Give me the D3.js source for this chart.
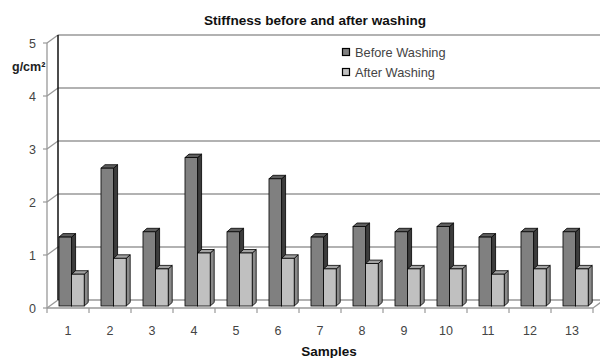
<!DOCTYPE html>
<html>
<head>
<meta charset="utf-8">
<script src="https://cdn.jsdelivr.net/npm/d3@7"></script>
<style>
  html, body { margin: 0; padding: 0; background: #fff; }
  svg { display: block; font-family: "Liberation Sans", Arial, sans-serif; }
</style>
</head>
<body>
<svg id="chart" width="600" height="358"></svg>
<script>
// Stiffness of samples before and after washing (g/cm²)
const samples = ["1","2","3","4","5","6","7","8","9","10","11","12","13"];
const beforeWashing = [1.3, 2.6, 1.4, 2.8, 1.4, 2.4, 1.3, 1.5, 1.4, 1.5, 1.3, 1.4, 1.4];
const afterWashing  = [0.6, 0.9, 0.7, 1.0, 1.0, 0.9, 0.7, 0.8, 0.7, 0.7, 0.6, 0.7, 0.7];
const yTicks = [0, 1, 2, 3, 4, 5];
const seriesNames = ["Before Washing", "After Washing"];

const svg = d3.select("#chart");

// Oblique projection: full depth of the floor/walls and the depth of each bar
const depth = { dx: 11, dy: -8 };
const barDepth = { dx: 4, dy: -3.5 };
const barPlane = 0.25;               // bars stand a quarter of the way into the floor

const x = d3.scaleBand().domain(samples).range([47, 593]).paddingInner(0).paddingOuter(0);
const y = d3.scaleLinear().domain([0, 5]).range([308, 43]);

const palette = {
  before: { front: "#808080", top: "#5e5e5e", side: "#3c3c3c" },
  after:  { front: "#c0c0c0", top: "#a2a2a2", side: "#8a8a8a" }
};
const gridColor = "#999999";

// Back wall gridlines and left wall diagonals
const gWalls = svg.append("g");
const x0 = x.range()[0], x1 = x.range()[1];
yTicks.forEach(t => {
  const yf = y(t);
  // left side wall: front edge to back edge
  gWalls.append("line")
    .attr("x1", x0).attr("y1", yf)
    .attr("x2", x0 + depth.dx).attr("y2", yf + depth.dy)
    .attr("stroke", gridColor).attr("stroke-width", 1.3);
  // back wall gridline (the floor's back edge for 0)
  gWalls.append("line")
    .attr("x1", x0 + depth.dx).attr("y1", yf + depth.dy)
    .attr("x2", x1 + depth.dx).attr("y2", yf + depth.dy)
    .attr("stroke", gridColor).attr("stroke-width", 1.3);
  // tick on the front value axis
  gWalls.append("line")
    .attr("x1", x0 - 4).attr("y1", yf)
    .attr("x2", x0).attr("y2", yf)
    .attr("stroke", gridColor).attr("stroke-width", 1.2);
});

// floor: front edge and right diagonal
gWalls.append("line")
  .attr("x1", x0).attr("y1", y(0)).attr("x2", x1).attr("y2", y(0))
  .attr("stroke", gridColor).attr("stroke-width", 1.3);
gWalls.append("line")
  .attr("x1", x1).attr("y1", y(0)).attr("x2", x1 + depth.dx).attr("y2", y(0) + depth.dy)
  .attr("stroke", gridColor).attr("stroke-width", 1.3);

// front value axis line
gWalls.append("line")
  .attr("x1", x0).attr("y1", y(0)).attr("x2", x0).attr("y2", y(5))
  .attr("stroke", gridColor).attr("stroke-width", 1.3);
// back-left corner edge
gWalls.append("line")
  .attr("x1", x0 + depth.dx).attr("y1", y(0) + depth.dy)
  .attr("x2", x0 + depth.dx).attr("y2", y(5) + depth.dy)
  .attr("stroke", "#111").attr("stroke-width", 1.5);

// category ticks on the front floor edge
const tickPos = samples.map(s => x(s)).concat([x1]);
gWalls.selectAll(".xtick").data(tickPos).enter().append("line")
  .attr("x1", d => d).attr("x2", d => d)
  .attr("y1", y(0)).attr("y2", y(0) + 5)
  .attr("stroke", gridColor).attr("stroke-width", 1.2);

// Bars
const bw = x.bandwidth();
const barW = bw * 0.3;
const planeDx = depth.dx * barPlane, planeDy = depth.dy * barPlane;
const yBar = v => y(v) + planeDy;

function drawBar(g, left, value, col) {
  const top = yBar(value), base = yBar(0);
  const r = left + barW;
  const dx = barDepth.dx, dy = barDepth.dy;
  // side face
  g.append("path")
    .attr("d", `M${r},${top}L${r + dx},${top + dy}L${r + dx},${base + dy}L${r},${base}Z`)
    .attr("fill", col.side).attr("stroke", "#000").attr("stroke-width", 0.8).attr("stroke-linejoin", "round");
  // top face
  g.append("path")
    .attr("d", `M${left},${top}L${left + dx},${top + dy}L${r + dx},${top + dy}L${r},${top}Z`)
    .attr("fill", col.top).attr("stroke", "#000").attr("stroke-width", 0.8).attr("stroke-linejoin", "round");
  // front face
  g.append("rect")
    .attr("x", left).attr("y", top).attr("width", barW).attr("height", base - top)
    .attr("fill", col.front).attr("stroke", "#000").attr("stroke-width", 0.8);
}

const gBars = svg.append("g");
samples.forEach((s, i) => {
  const left = x(s) + planeDx + bw * 0.22;
  drawBar(gBars, left, beforeWashing[i], palette.before);
  drawBar(gBars, left + barW, afterWashing[i], palette.after);
});

// Value axis labels
svg.append("g").selectAll("text").data(yTicks).enter().append("text")
  .attr("x", 36).attr("y", d => y(d)).attr("dy", "0.36em")
  .attr("text-anchor", "end").attr("font-size", 12.5).attr("fill", "#444")
  .text(d => d);

// Category labels
svg.append("g").selectAll("text").data(samples).enter().append("text")
  .attr("x", d => x(d) + bw / 2).attr("y", 330).attr("dy", "0.36em")
  .attr("text-anchor", "middle").attr("font-size", 12.5).attr("fill", "#444")
  .text(d => d);

// Unit label
svg.append("text").attr("x", 12).attr("y", 66).attr("dy", "0.36em")
  .attr("font-size", 12.5).attr("font-weight", "bold").attr("fill", "#222")
  .text("g/cm²");

// Title
svg.append("text").attr("x", 315).attr("y", 20).attr("dy", "0.36em")
  .attr("text-anchor", "middle").attr("font-size", 13.6).attr("font-weight", "bold").attr("fill", "#111")
  .text("Stiffness before and after washing");

// Category axis title
svg.append("text").attr("x", 329).attr("y", 351).attr("dy", "0.36em")
  .attr("text-anchor", "middle").attr("font-size", 13.5).attr("font-weight", "bold").attr("fill", "#111")
  .text("Samples");

// Legend
const legend = svg.append("g");
[palette.before, palette.after].forEach((col, i) => {
  const ly = 52 + i * 20;
  legend.append("rect").attr("x", 342.5).attr("y", ly - 3.5).attr("width", 7).attr("height", 7)
    .attr("fill", col.front).attr("stroke", "#000").attr("stroke-width", 1.2);
  legend.append("text").attr("x", 355).attr("y", ly).attr("dy", "0.36em")
    .attr("font-size", 12.8).attr("fill", "#444").text(seriesNames[i]);
});
</script>
</body>
</html>
